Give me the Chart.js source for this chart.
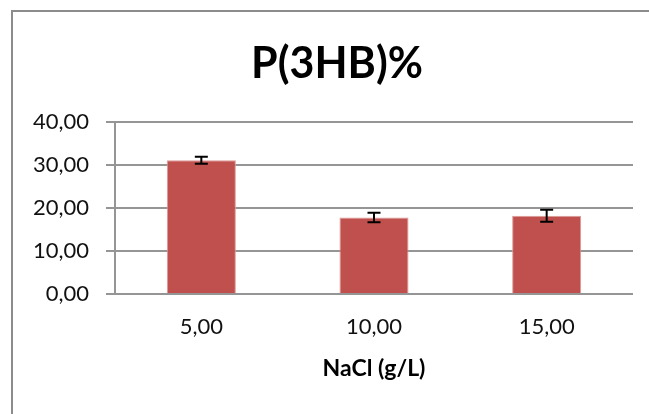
<!DOCTYPE html>
<html>
<head>
<meta charset="utf-8">
<script src="https://cdn.jsdelivr.net/npm/chart.js@4/dist/chart.umd.min.js"></script>
<style>
  html, body { margin: 0; padding: 0; background: #fff; }
  #wrap { width: 649px; height: 414px; position: relative; }
</style>
</head>
<body>
<div id="wrap"><canvas id="myChart"></canvas></div>
<script>
const categories = ["5,00", "10,00", "15,00"];
const values = [31.1, 17.8, 18.2];
const errors = [0.8, 1.1, 1.4];
const chartTitle = "P(3HB)%";
const xTitle = "NaCl (g/L)";

const fmt = (v) => v.toFixed(2).replace(".", ",");

// frame + title drawn by hand so the title can sit off-centre like the original
const frameAndTitle = {
    id: "frameAndTitle",
    beforeDraw(chart) {
        const ctx = chart.ctx;
        ctx.save();
        ctx.strokeStyle = "#8c8c8c";
        ctx.lineWidth = 2;
        ctx.strokeRect(12, 11, 700, 500);
        ctx.restore();
    },
    afterDraw(chart) {
        const ctx = chart.ctx;
        ctx.save();
        ctx.fillStyle = "#000";
        ctx.font = "bold 43px Lato";
        ctx.textAlign = "center";
        ctx.textBaseline = "middle";
        ctx.fillText(chartTitle, 337, 64);
        ctx.restore();
    },
};

// error bars
const errorBars = {
    id: "errorBars",
    afterDatasetsDraw(chart) {
        const { ctx, scales: { y } } = chart;
        const meta = chart.getDatasetMeta(0);
        ctx.save();
        ctx.strokeStyle = "#000";
        ctx.lineWidth = 2;
        meta.data.forEach((bar, i) => {
            const hi = y.getPixelForValue(values[i] + errors[i]);
            const lo = y.getPixelForValue(values[i] - errors[i]);
            const x = bar.x;
            ctx.beginPath();
            ctx.moveTo(x, hi);
            ctx.lineTo(x, lo);
            ctx.moveTo(x - 6.5, hi);
            ctx.lineTo(x + 6.5, hi);
            ctx.moveTo(x - 6.5, lo);
            ctx.lineTo(x + 6.5, lo);
            ctx.stroke();
        });
        ctx.restore();
    },
};

const data = {
    labels: categories,
    datasets: [
        {
            label: chartTitle,
            data: values,
            backgroundColor: "#C0504D",
            borderColor: "#dc9a98",
            borderWidth: 1,
            barPercentage: 0.4,
            categoryPercentage: 1,
        },
    ],
};

const config = {
    type: "bar",
    data,
    options: {
        responsive: true,
        maintainAspectRatio: false,
        animation: false,
        layout: {
            padding: { left: 0, right: 16, top: 122, bottom: 32 },
        },
        plugins: {
            legend: { display: false },
            tooltip: { enabled: false },
        },
        scales: {
            x: {
                grid: { display: false, drawTicks: false },
                border: { display: false },
                ticks: {
                    color: "#111",
                    font: { family: "Lato", size: 22 },
                    padding: 20,
                },
                title: {
                    display: true,
                    text: xTitle,
                    color: "#000",
                    font: { family: "Lato", size: 23, weight: "bold" },
                    padding: { top: 0, bottom: 0 },
                },
                afterFit(scale) { scale.height = 88; },
            },
            y: {
                min: 0,
                max: 40,
                ticks: {
                    stepSize: 10,
                    color: "#111",
                    font: { family: "Lato", size: 22 },
                    padding: 17,
                    callback: (v) => fmt(v),
                },
                grid: { color: "#959595", lineWidth: 2, tickLength: 9 },
                border: { display: true, color: "#959595", width: 2 },
                afterFit(scale) { scale.width = 115; },
            },
        },
    },
    plugins: [frameAndTitle, errorBars],
};

const myChart = new Chart(document.getElementById("myChart"), config);
</script>
</body>
</html>
